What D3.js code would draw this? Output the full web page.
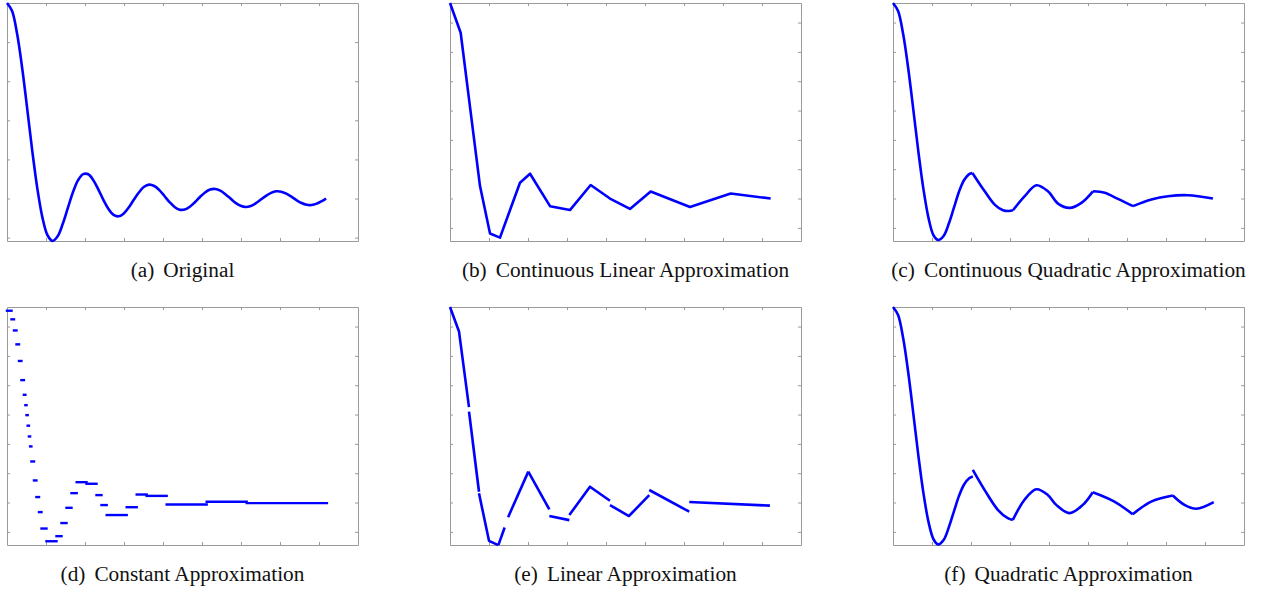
<!DOCTYPE html>
<meta charset="utf-8">
<script src="https://d3js.org/d3.v7.min.js"></script>
<style>
  body { margin: 0; background: #fff; }
  .axis path, .axis line { stroke: #9a9a9a; stroke-width: 1; }
  .caption { font-family: "Liberation Serif", "Times New Roman", serif; font-size: 21.3px; fill: #111; }
</style>
<svg id="fig" width="1266" height="591"></svg>
<script>

// x runs over [0, 11*pi], y over [sinc min, 1]
var xDomain = [0, 34.56],
    yDomain = [-0.2172, 1];

var xTicks = [3.84, 7.68, 11.52, 15.36, 19.2, 23.04, 26.88, 30.72];
var yTicksFine = [-0.2, 0, 0.2, 0.4, 0.6, 0.8];
var yTicksCoarse = [-0.15, 0, 0.15, 0.3, 0.45, 0.6, 0.75, 0.9];

// (a) original signal
var original = [
  [0, 1], [0.5, 0.959], [1, 0.841], [1.5, 0.665], [2, 0.455], [2.5, 0.239], [3, 0.047],
  [3.5, -0.100], [4, -0.189], [4.5, -0.217], [5, -0.192], [5.5, -0.128], [6, -0.047],
  [6.5, 0.033], [7, 0.094], [7.5, 0.125], [8, 0.124], [8.5, 0.094], [9, 0.046],
  [9.5, -0.008], [10, -0.054], [10.5, -0.084], [11, -0.091], [11.5, -0.076], [12, -0.045],
  [12.5, -0.005], [13, 0.032], [13.5, 0.060], [14, 0.071], [14.5, 0.064], [15, 0.043],
  [15.5, 0.013], [16, -0.018], [16.5, -0.043], [17, -0.057], [17.5, -0.056], [18, -0.042],
  [18.5, -0.019], [19, 0.008], [19.5, 0.031], [20, 0.046], [20.5, 0.049], [21, 0.040],
  [21.5, 0.022], [22, 0.000], [22.5, -0.022], [23, -0.037], [23.5, -0.043], [24, -0.038],
  [24.5, -0.024], [25, -0.005], [25.5, 0.014], [26, 0.029], [26.5, 0.037], [27, 0.035],
  [27.5, 0.025], [28, 0.010], [28.5, -0.008], [29, -0.023], [29.5, -0.032], [30, -0.033],
  [30.5, -0.026], [31, -0.013], [31.42, 0]
];

// (b) continuous linear approximation: breakpoints
var contLinear = [
  [0, 1], [1.05, 0.848], [2.95, 0.065], [3.94, -0.179], [4.92, -0.2], [6.89, 0.081],
  [7.88, 0.127], [9.85, -0.039], [11.81, -0.059], [13.85, 0.069], [15.75, 0],
  [17.72, -0.053], [19.76, 0.036], [23.63, -0.043], [27.64, 0.026], [31.57, 0]
];

// (c) continuous quadratic approximation, one array per piece
var contQuad = [
  [[0, 1], [0.5, 0.959], [1, 0.841], [1.5, 0.665], [2, 0.455], [2.5, 0.239], [3, 0.047],
   [3.5, -0.100], [4, -0.189], [4.45, -0.212], [5, -0.190], [5.5, -0.128], [6, -0.047],
   [6.5, 0.035], [7, 0.095], [7.5, 0.125], [7.82, 0.131]],
  [[7.82, 0.131], [9.03, 0.037], [10.01, -0.031], [10.83, -0.060], [11.4, -0.064], [11.81, -0.060]],
  [[11.81, -0.060], [12.97, 0.012], [14.12, 0.068], [15.26, 0.037], [16.25, -0.026],
   [17.4, -0.048], [18.55, -0.022], [19.69, 0.037]],
  [[19.69, 0.037], [20.84, 0.029], [22.15, -0.002], [23.63, -0.039]],
  [[23.63, -0.039], [25.44, -0.005], [27.08, 0.012], [29.04, 0.017], [31.5, 0]]
];

// (d) constant approximation: step edges and levels
var stepEdges = [0, 0.443, 0.689, 0.935, 1.181, 1.418, 1.664, 1.812, 1.92, 2.038, 2.156,
  2.274, 2.402, 2.658, 2.895, 3.151, 3.397, 3.889, 4.873, 5.366, 5.858, 6.35, 6.862,
  7.827, 8.812, 9.304, 9.816, 11.785, 12.77, 13.75, 15.72, 19.66, 23.6, 31.5];
var stepLevels = [0.981, 0.937, 0.88, 0.809, 0.724, 0.626, 0.551, 0.498, 0.447, 0.393,
  0.338, 0.287, 0.21, 0.113, 0.028, -0.049, -0.133, -0.198, -0.172, -0.105, -0.027,
  0.048, 0.104, 0.096, 0.038, -0.013, -0.064, -0.024, 0.041, 0.034, -0.01, 0.004, -0.003];

// (e) linear approximation, one array per piece
var linPieces = [
  [[0, 1], [0.886, 0.875], [1.87, 0.488]],
  [[1.87, 0.465], [2.855, 0.055]],
  [[2.855, 0.047], [3.84, -0.196], [4.76, -0.218]],
  [[4.76, -0.218], [5.38, -0.128]],
  [[5.72, -0.075], [7.71, 0.158]],
  [[7.71, 0.158], [9.78, -0.035]],
  [[9.78, -0.069], [11.75, -0.09]],
  [[11.75, -0.064], [13.78, 0.081], [15.75, 0.009]],
  [[15.75, -0.013], [17.62, -0.069], [19.62, 0.038]],
  [[19.62, 0.064], [23.56, -0.047]],
  [[23.56, 0.003], [31.5, -0.016]]
];

// (f) quadratic approximation, one array per piece
var quadPieces = [
  [[0, 1], [0.5, 0.959], [1, 0.841], [1.5, 0.665], [2, 0.455], [2.5, 0.239], [3, 0.047],
   [3.5, -0.100], [4, -0.189], [4.45, -0.214], [5, -0.190], [5.5, -0.126], [6, -0.045],
   [6.5, 0.034], [7, 0.092], [7.5, 0.124], [7.86, 0.133]],
  [[7.86, 0.167], [9.01, 0.065], [10.32, -0.037], [11.3, -0.08], [11.8, -0.089]],
  [[11.8, -0.089], [12.95, 0.014], [14.1, 0.068], [15.24, 0.039], [16.07, -0.012],
   [17.38, -0.054], [18.69, -0.012], [19.67, 0.053]],
  [[19.67, 0.053], [21.8, 0.005], [23.6, -0.06]],
  [[23.6, -0.06], [25.42, 0.005], [27.55, 0.036]],
  [[27.55, 0.036], [28.7, -0.012], [29.85, -0.032], [31.58, 0.002]]
];

var W = 351, H = 238;

var panels = [
  {left: 7,   top: 3,   yTicks: yTicksFine,   label: "(a)", title: "Original",                         kind: "smooth", pieces: [original]},
  {left: 450, top: 3,   yTicks: yTicksCoarse, label: "(b)", title: "Continuous Linear Approximation",  kind: "linear", pieces: [contLinear]},
  {left: 893, top: 3,   yTicks: yTicksCoarse, label: "(c)", title: "Continuous Quadratic Approximation", kind: "smooth", pieces: contQuad},
  {left: 7,   top: 307, yTicks: yTicksCoarse, label: "(d)", title: "Constant Approximation",           kind: "steps"},
  {left: 450, top: 307, yTicks: yTicksCoarse, label: "(e)", title: "Linear Approximation",             kind: "linear", pieces: linPieces},
  {left: 893, top: 307, yTicks: yTicksCoarse, label: "(f)", title: "Quadratic Approximation",          kind: "smooth", pieces: quadPieces}
];

var svg = d3.select("#fig");

panels.forEach(function(p) {
  var g = svg.append("g").attr("transform", "translate(" + p.left + "," + p.top + ")");

  var x = d3.scaleLinear().domain(xDomain).range([0, W]);
  var y = d3.scaleLinear().domain(yDomain).range([H, 0]);

  // box with inward ticks on all four sides
  g.append("g").attr("class", "axis")
    .call(d3.axisTop(x).tickValues(xTicks).tickSizeInner(-3).tickSizeOuter(0).tickFormat(""));
  g.append("g").attr("class", "axis").attr("transform", "translate(0," + H + ")")
    .call(d3.axisBottom(x).tickValues(xTicks).tickSizeInner(-3).tickSizeOuter(0).tickFormat(""));
  g.append("g").attr("class", "axis")
    .call(d3.axisLeft(y).tickValues(p.yTicks).tickSizeInner(-3).tickSizeOuter(0).tickFormat(""));
  g.append("g").attr("class", "axis").attr("transform", "translate(" + W + ",0)")
    .call(d3.axisRight(y).tickValues(p.yTicks).tickSizeInner(-3).tickSizeOuter(0).tickFormat(""));

  if (p.kind === "steps") {
    g.selectAll(".step")
      .data(stepLevels)
      .enter().append("line")
        .attr("x1", function(d, i) { return x(stepEdges[i]); })
        .attr("x2", function(d, i) { return x(stepEdges[i + 1]); })
        .attr("y1", function(d) { return y(d); })
        .attr("y2", function(d) { return y(d); })
        .attr("stroke", "#0000ff")
        .attr("stroke-width", 2.4)
        .attr("stroke-linecap", "square");
  } else {
    var line = d3.line()
      .x(function(d) { return x(d[0]); })
      .y(function(d) { return y(d[1]); })
      .curve(p.kind === "smooth" ? d3.curveCatmullRom : d3.curveLinear);
    g.selectAll(".piece")
      .data(p.pieces)
      .enter().append("path")
        .attr("d", line)
        .attr("fill", "none")
        .attr("stroke", "#0000ff")
        .attr("stroke-width", 2.6)
        .attr("stroke-linejoin", "round");
  }

  var cap = svg.append("text")
    .attr("class", "caption")
    .attr("x", p.left + W / 2)
    .attr("y", p.top + H + 36)
    .attr("text-anchor", "middle");
  cap.append("tspan").text(p.label);
  cap.append("tspan").attr("dx", 9).text(p.title);
});

</script>
